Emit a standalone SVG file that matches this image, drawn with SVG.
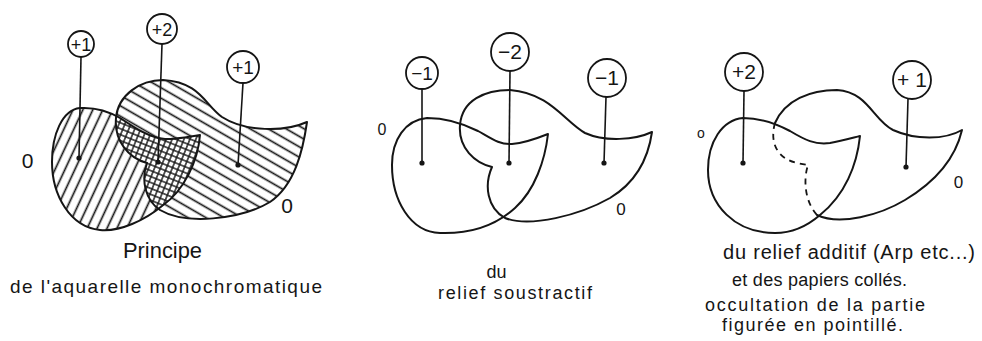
<svg xmlns="http://www.w3.org/2000/svg" width="982" height="341" viewBox="0 0 982 341">
<defs>
<style>
.o{fill:none;stroke:#151515;stroke-width:2;stroke-linejoin:round;stroke-linecap:round}
.d{fill:none;stroke:#151515;stroke-width:1.8;stroke-dasharray:6 5}
.b{fill:#fff;stroke:#151515;stroke-width:1.8}
.l{stroke:#151515;stroke-width:1.6}
.dot{fill:#151515}
.t{font-family:"Liberation Sans",Arial,sans-serif;fill:#151515}
.bt{font-family:"Liberation Sans",Arial,sans-serif;fill:#151515;text-anchor:middle}
</style>
<pattern id="hL" width="9" height="9" patternUnits="userSpaceOnUse" patternTransform="rotate(25)"><line x1="4.5" y1="0" x2="4.5" y2="9" stroke="#151515" stroke-width="1.7"/></pattern>
<pattern id="hR" width="9" height="9" patternUnits="userSpaceOnUse" patternTransform="rotate(30)"><line x1="0" y1="4.5" x2="9" y2="4.5" stroke="#151515" stroke-width="1.7"/></pattern>
<pattern id="hX" width="5.5" height="5.5" patternUnits="userSpaceOnUse" patternTransform="rotate(22)"><path d="M2.75,0V5.5M0,2.75H5.5" stroke="#151515" stroke-width="1.4"/></pattern>
<path id="L1" d="M80,108 C98,107 110,112 120,118 C135,128 150,138 165,139 C180,139 192,136 200,135 C198,160 185,190 162,206 C145,220 120,232 100,230 C70,227 52,195 52,162 C52,135 62,110 80,108 Z"/>
<path id="R1" d="M163,80 C140,80 118,95 116,118 C114,140 128,158 147,163 C141,180 145,200 160,210 C185,225 240,220 270,202 C295,185 303,150 307,122 C285,132 245,132 222,117 C205,105 200,82 163,80 Z"/>
<clipPath id="cL1"><use href="#L1"/></clipPath>
</defs>
<rect width="982" height="341" fill="#fff"/>

<g id="panel1-shapes">
<use href="#L1" fill="url(#hL)"/>
<use href="#R1" fill="#fff"/>
<use href="#R1" fill="url(#hR)"/>
<g clip-path="url(#cL1)"><use href="#R1" fill="#fff"/><use href="#R1" fill="url(#hX)"/></g>
<use href="#L1" class="o"/>
<use href="#R1" class="o"/>
</g>

<g id="panel2-shapes">
<path class="o" d="M427,118 C445,118 462,123 478,131 C492,139 500,145 512,144 C525,143 538,138 548,134 C545,160 535,190 515,208 C495,226 470,234 440,233 C410,232 392,200 392,165 C392,140 405,120 427,118 Z"/>
<path class="o" d="M510,90 C485,90 462,100 460,125 C458,148 475,163 492,167 C484,185 487,208 505,218 C530,228 580,215 610,198 C635,183 648,160 652,132 C635,140 605,142 585,133 C565,122 550,93 510,90 Z"/>
</g>

<g id="panel3-shapes">
<path class="o" d="M743,118 C760,118 775,123 790,131 C805,140 815,145 830,143 C842,141 852,138 860,136 C857,165 845,195 820,215 C805,228 790,233 775,233 C735,233 708,205 708,170 C708,142 722,120 743,118 Z"/>
<path class="o" d="M817,215 C840,226 880,215 905,200 C935,182 955,160 962,130 C945,140 915,140 893,130 C873,120 868,92 837,90 C810,90 785,100 775,123"/>
<path class="d" d="M775,123 C770,140 775,158 797,163 L808,165 C803,180 805,202 817,215"/>
</g>

<g id="connectors">
<line class="l" x1="81" y1="57" x2="79" y2="158"/>
<line class="l" x1="162" y1="44" x2="158" y2="162"/>
<line class="l" x1="243" y1="83" x2="238" y2="165"/>
<line class="l" x1="422" y1="89" x2="422" y2="163"/>
<line class="l" x1="510" y1="71" x2="509" y2="163"/>
<line class="l" x1="606" y1="97" x2="604" y2="163"/>
<line class="l" x1="744" y1="91" x2="743" y2="163"/>
<line class="l" x1="908" y1="99" x2="906" y2="167"/>
<circle class="dot" cx="79" cy="158" r="2.6"/>
<circle class="dot" cx="158" cy="162" r="2.6"/>
<circle class="dot" cx="238" cy="165" r="2.6"/>
<circle class="dot" cx="422" cy="163" r="2.6"/>
<circle class="dot" cx="509" cy="163" r="2.6"/>
<circle class="dot" cx="604" cy="163" r="2.6"/>
<circle class="dot" cx="743" cy="163" r="2.6"/>
<circle class="dot" cx="906" cy="167" r="2.6"/>
</g>

<g id="bubble-p1a"><circle class="b" cx="81" cy="44" r="13"/><text class="bt" x="81" y="50.5" style="font-size:18px">+1</text></g>
<g id="bubble-p1b"><circle class="b" cx="162" cy="29" r="15"/><text class="bt" x="162" y="35.5" style="font-size:18px">+2</text></g>
<g id="bubble-p1c"><circle class="b" cx="243" cy="67" r="16"/><text class="bt" x="243" y="73.5" style="font-size:19px">+1</text></g>
<g id="bubble-p2a"><circle class="b" cx="422" cy="73" r="16"/><text class="bt" x="422" y="79.5" style="font-size:19px">−1</text></g>
<g id="bubble-p2b"><circle class="b" cx="510" cy="52" r="19"/><text class="bt" x="510" y="59" style="font-size:21px">−2</text></g>
<g id="bubble-p2c"><circle class="b" cx="607" cy="78" r="19"/><text class="bt" x="607" y="85" style="font-size:21px">−1</text></g>
<g id="bubble-p3a"><circle class="b" cx="744" cy="72" r="19"/><text class="bt" x="744" y="79" style="font-size:21px">+2</text></g>
<g id="bubble-p3b"><circle class="b" cx="912" cy="80" r="19"/><text class="bt" x="912" y="87" style="font-size:21px">+ 1</text></g>

<g id="zero-labels">
<text class="t" x="27.5" y="168" style="font-size:21px;text-anchor:middle">0</text>
<text class="t" x="287" y="213" style="font-size:21px;text-anchor:middle">0</text>
<text class="t" x="382" y="135" style="font-size:16px;text-anchor:middle">0</text>
<text class="t" x="621" y="215" style="font-size:17px;text-anchor:middle">0</text>
<text class="t" x="701" y="138" style="font-size:14px;text-anchor:middle">o</text>
<text class="t" x="958.5" y="188" style="font-size:17px;text-anchor:middle">0</text>
</g>

<g id="captions">
<text class="t" x="123" y="258" style="font-size:22px" textLength="79" lengthAdjust="spacingAndGlyphs">Principe</text>
<text class="t" x="10" y="293" style="font-size:19px" textLength="312" lengthAdjust="spacing">de l'aquarelle monochromatique</text>
<text class="t" x="496.5" y="278" style="font-size:18px;text-anchor:middle">du</text>
<text class="t" x="438" y="299" style="font-size:18px" textLength="154" lengthAdjust="spacing">relief soustractif</text>
<text class="t" x="723" y="259" style="font-size:20px" textLength="252" lengthAdjust="spacing">du relief additif (Arp etc...)</text>
<text class="t" x="732" y="286" style="font-size:18px" textLength="175" lengthAdjust="spacing">et des papiers collés.</text>
<text class="t" x="705" y="311" style="font-size:18px" textLength="220" lengthAdjust="spacing">occultation de la partie</text>
<text class="t" x="722" y="331" style="font-size:18px" textLength="181" lengthAdjust="spacing">figurée en pointillé.</text>
</g>
</svg>
